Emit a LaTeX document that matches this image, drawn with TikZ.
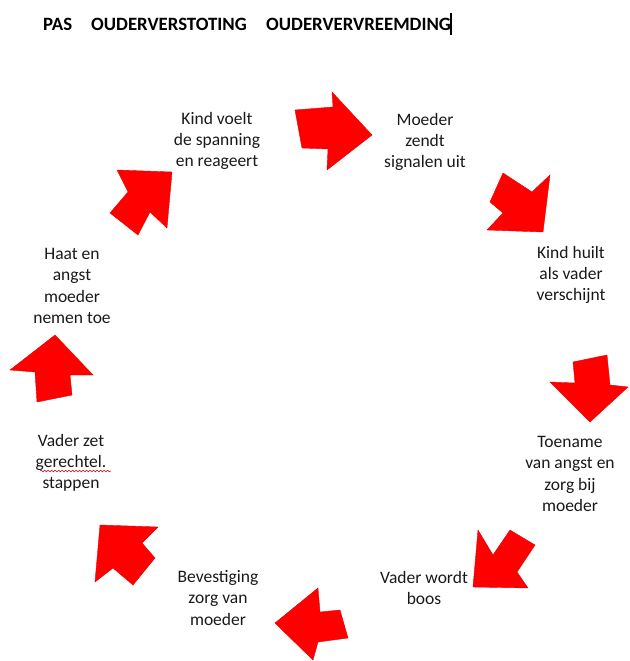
\documentclass[tikz,border=0pt]{standalone}
\usepackage{fontspec}
\setmainfont{Carlito}
\usetikzlibrary{decorations.pathmorphing}
\begin{document}
\begin{tikzpicture}[x=1pt,y=-1pt,
  lbl/.style={align=center, font=\fontsize{17.5}{21.3}\selectfont, text=black!90, inner sep=0pt},
  ttl/.style={anchor=west, font=\bfseries\fontsize{18.8}{20}\selectfont, inner sep=0pt},
  blockarrow/.style={fill=red, draw=red!90!black, line width=0.4pt, line join=miter}]
\useasboundingbox (0,0) rectangle (629,661);
% title
\node[ttl] (t1) at (43,24) {PAS};
\node[ttl] (t2) at (91,24) {OUDERVERSTOTING};
\node[ttl] (t3) at (266,24) {OUDERVERVREEMDING};
\draw[line width=1.3pt] (451,13) -- (451,35);
% labels
\node[lbl] (k1) at (217,141) {Kind voelt\\de spanning\\en reageert};
\node[lbl] (m1) at (425,142) {Moeder\\zendt\\signalen uit};
\node[lbl] (k2) at (571,275) {Kind huilt\\als vader\\verschijnt};
\node[lbl] (h)  at (72,286)  {Haat en\\angst\\moeder\\nemen toe};
\node[lbl] (v1) at (71,463)  {Vader zet\\gerechtel.\\stappen};
\node[lbl] (tz) at (570,474) {Toename\\van angst en\\zorg bij\\moeder};
\node[lbl] (v2) at (424,588) {Vader wordt\\boos};
\node[lbl] (bz) at (218,598) {Bevestiging\\zorg van\\moeder};
\draw[red!80!black, line width=0.5pt, decorate, decoration={snake, amplitude=0.8pt, segment length=3.5pt}] (40,471) -- (111,471);
% arrows
\draw[blockarrow] (295,110) -- (333,107) -- (332,92) -- (372,135) -- (327,170) -- (328,149) -- (302,148) -- cycle;
\draw[blockarrow] (503,173) -- (532,192) -- (550,175) -- (543,232) -- (487,230) -- (503,213) -- (490,202) -- cycle;
\draw[blockarrow] (573,362) -- (607,355) -- (610,385) -- (628,387) -- (590,422) -- (550,382) -- (575,383) -- cycle;
\draw[blockarrow] (478,530) -- (493,555) -- (510,530) -- (535,545) -- (517,572) -- (528,588) -- (473,587) -- cycle;
\draw[blockarrow] (275,623) -- (318,588) -- (320,612) -- (340,610) -- (348,638) -- (318,642) -- (313,660) -- cycle;
\draw[blockarrow] (100,525) -- (158,527) -- (142,543) -- (155,558) -- (133,585) -- (113,568) -- (95,582) -- cycle;
\draw[blockarrow] (55,335) -- (93,375) -- (70,375) -- (72,395) -- (37,402) -- (35,372) -- (10,370) -- cycle;
\draw[blockarrow] (172,172) -- (167,228) -- (150,212) -- (138,235) -- (110,213) -- (128,192) -- (117,170) -- cycle;
\end{tikzpicture}
\end{document}
